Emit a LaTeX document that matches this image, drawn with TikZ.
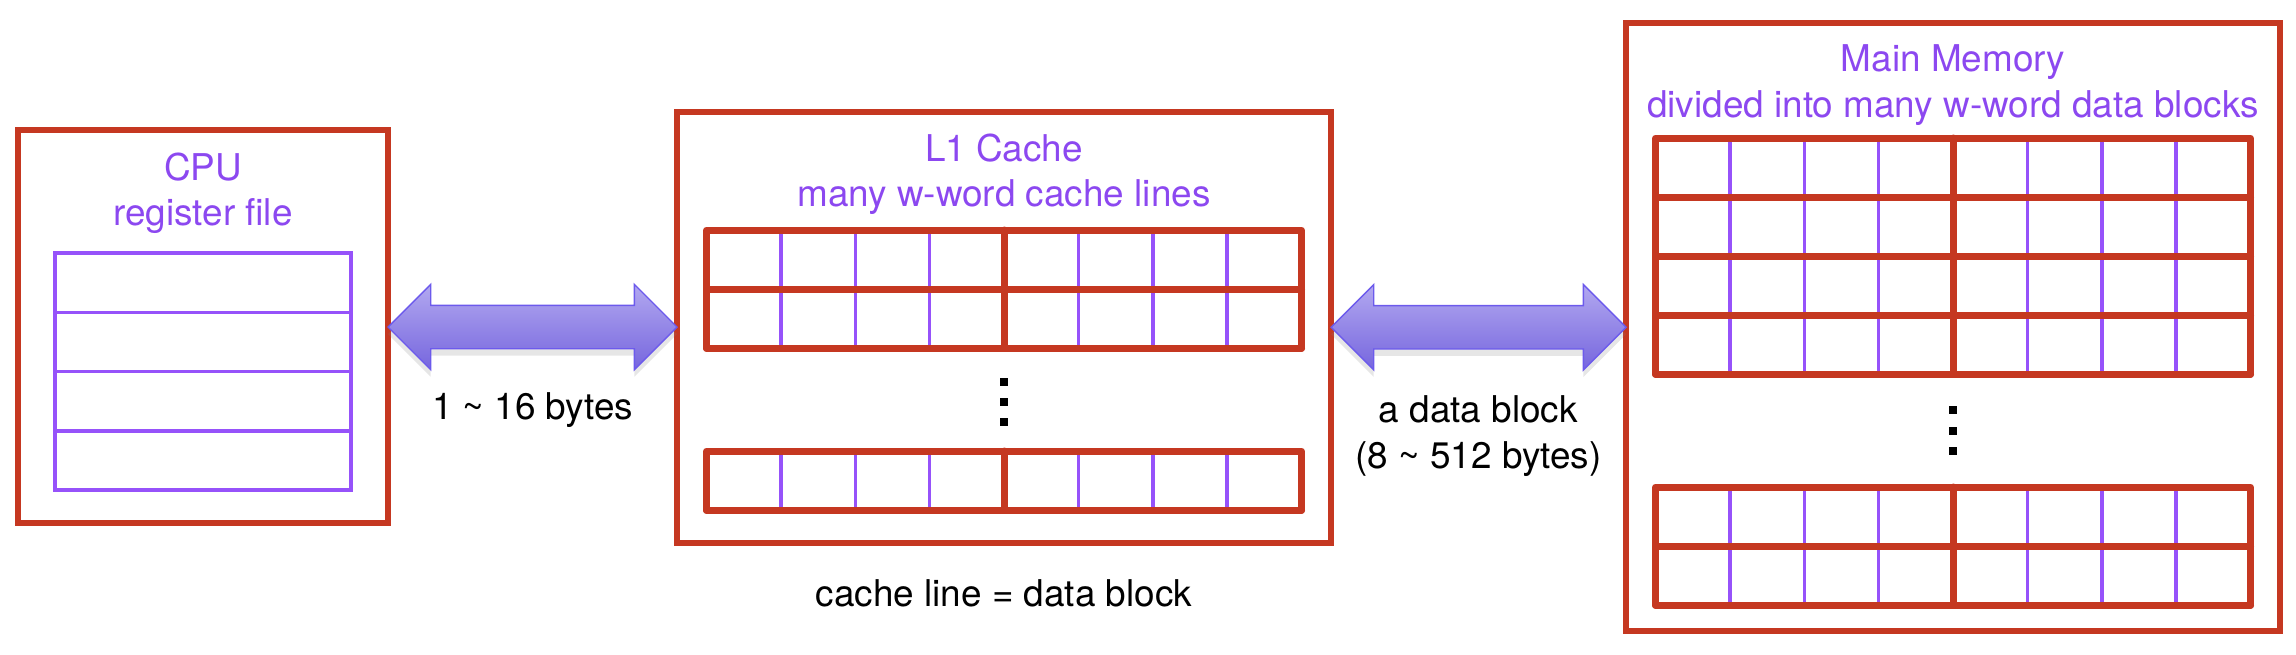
\documentclass[tikz,border=0pt]{standalone}
\usepackage{fontspec}
\setmainfont{TeX Gyre Heros}
\usepackage{tikz}
\usetikzlibrary{shapes.arrows}
\usetikzlibrary{positioning,shadows}

\definecolor{boxred}{RGB}{197,56,33}
\definecolor{wordpurple}{RGB}{150,82,250}
\definecolor{headpurple}{RGB}{140,72,240}
\definecolor{bustop}{RGB}{178,168,240}
\definecolor{busbottom}{RGB}{118,102,222}
\definecolor{busedge}{RGB}{108,90,236}

% one group of w-word blocks: left x, top y, number of rows
\newcommand{\blockgroup}[3]{%
  \foreach \cc in {1,2,3,5,6,7}
    \draw[wordline] ({#1+\cc*74.375},#2) -- ({#1+\cc*74.375},{#2+#3*59});
  \draw[blockframe] (#1,#2) rectangle ({#1+595},{#2+#3*59});
  \draw[blockframe] ({#1+297.5},#2) -- ({#1+297.5},{#2+#3*59});
  \foreach \rr in {1,...,#3}
    \draw[blockframe] (#1,{#2+\rr*59}) -- ({#1+595},{#2+\rr*59});
}

\begin{document}
\begin{tikzpicture}[x=0.1mm,y=-0.1mm,
    font=\fontsize{10.5}{13}\selectfont,
    unit/.style={draw=boxred,line width=0.55mm,minimum width=65.4mm,inner sep=0pt,outer sep=0pt},
    headtext/.style={text=headpurple,align=center,inner sep=0pt},
    wordline/.style={draw=wordpurple,line width=0.35mm},
    blockframe/.style={draw=boxred,line width=0.7mm,line join=round,line cap=round},
    bus/.style={double arrow,double arrow head extend=2.1mm,inner xsep=0pt,inner ysep=2.1mm,
      top color=bustop,bottom color=busbottom,draw=busedge,line width=0.4pt,
      drop shadow={shadow xshift=0mm,shadow yshift=-0.7mm,opacity=0.2}},
    buslabel/.style={inner sep=0pt,align=center}]
  \useasboundingbox (0,0) rectangle (2296,654);

  % the three levels
  \node[unit,minimum width=37mm,minimum height=39.3mm] (cpu) at (203,326.5) {};
  \node[unit,minimum height=43.1mm] (cache) at (1004,327.5) {};
  \node[unit,minimum height=60.8mm] (mem) at (1953,327) {};

  \node[headtext,below=2.2mm of cpu.north] (cputitle) {CPU\\register file};
  \node[headtext,below=2.1mm of cache.north] (cachetitle) {L1 Cache\\many w-word cache lines};
  \node[headtext,below=2.1mm of mem.north] (memtitle) {Main Memory\\divided into many w-word data blocks};

  % register file
  \draw[wordline] (55,253) rectangle (351,490);
  \foreach \rr in {1,2,3}
    \draw[wordline] (55,{253+\rr*59.25}) -- (351,{253+\rr*59.25});

  % cache lines and memory blocks
  \blockgroup{706.5}{230}{2}
  \blockgroup{706.5}{451}{1}
  \blockgroup{1655.5}{138}{4}
  \blockgroup{1655.5}{487}{2}
  \foreach \dd in {0,1,2} {
    \fill ({1004-4},{378+\dd*20}) rectangle ++(8,8);
    \fill ({1953-4},{406+\dd*20.5}) rectangle ++(8,8);
  }

  % transfers
  \path (cpu.east) -- (cache.west) node[bus,midway,minimum height=28.9mm] (bus1) {};
  \path (cache.east) -- (mem.west) node[bus,midway,minimum height=29.5mm] (bus2) {};
  \node[buslabel,below=6.5mm of bus1.center] (bus1label) {1 \textasciitilde{} 16 bytes};
  \node[buslabel,below=6.8mm of bus2.center] (bus2label) {a data block\\(8 \textasciitilde{} 512 bytes)};
  \node[buslabel,below=3.6mm of cache.south] (equal) {cache line = data block};
\end{tikzpicture}
\end{document}
